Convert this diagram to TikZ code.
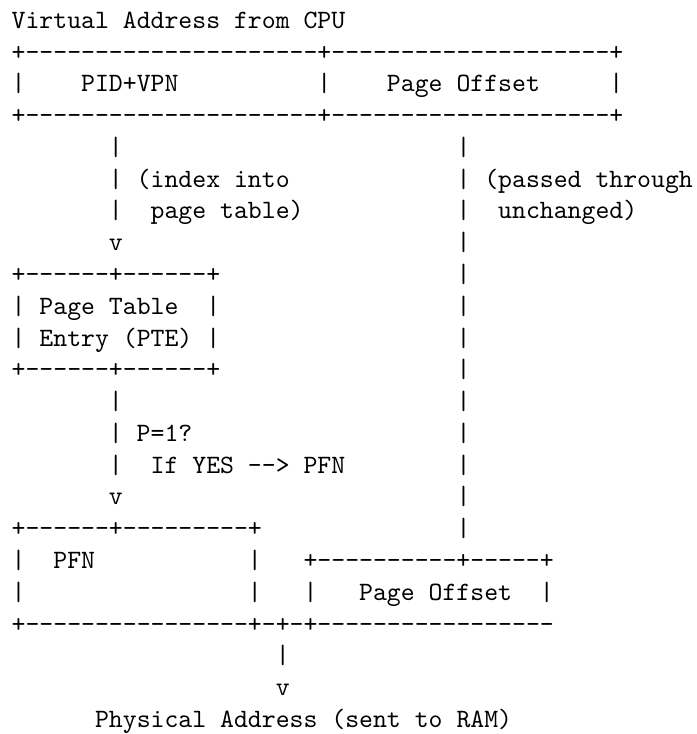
\documentclass[tikz,border=0pt]{standalone}
\usepackage{tikz}
% one column of the mono font
\newlength\cw
\setlength\cw{5.25pt}
\newcommand\sk[1]{\hspace*{#1\cw}}
\newcommand\hr[1]{\foreach\k in {1,...,#1}{-\kern0pt}}
\tikzset{asciirow/.style={anchor=base west,inner sep=0pt,font=\fontsize{10}{12}\selectfont\ttfamily}}

\begin{document}
\begin{tikzpicture}[x=1pt,y=1pt,every node/.style={asciirow}]
    \useasboundingbox (0,0) rectangle (263.2,-277.2);
    \node (r1)  at (4.2,-10.7)  {Virtual Address from CPU};
    \node (r2)  at (4.2,-22.7)  {+\hr{21}+\hr{20}+};
    \node (r3)  at (4.2,-34.7)  {|\sk4PID+VPN\sk{10}|\sk4Page Offset\sk5|};
    \node (r4)  at (4.2,-46.7)  {+\hr{21}+\hr{20}+};
    \node (r5)  at (4.2,-58.7)  {\sk7|\sk{24}|};
    \node (r6)  at (4.2,-70.7)  {\sk7|\sk1(index into\sk{12}|\sk1(passed through};
    \node (r7)  at (4.2,-82.7)  {\sk7|\sk2page table)\sk{11}|\sk2unchanged)};
    \node (r8)  at (4.2,-94.7)  {\sk7v\sk{24}|};
    \node (r9)  at (4.2,-106.7) {+\hr6+\hr6+\sk{17}|};
    \node (r10) at (4.2,-118.7) {|\sk1Page Table\sk2|\sk{17}|};
    \node (r11) at (4.2,-130.7) {|\sk1Entry (PTE)\sk1|\sk{17}|};
    \node (r12) at (4.2,-142.7) {+\hr6+\hr6+\sk{17}|};
    \node (r13) at (4.2,-154.7) {\sk7|\sk{24}|};
    \node (r14) at (4.2,-166.7) {\sk7|\sk1P=1?\sk{19}|};
    \node (r15) at (4.2,-178.7) {\sk7|\sk2If YES -\kern0pt-> PFN\sk8|};
    \node (r16) at (4.2,-190.7) {\sk7v\sk{24}|};
    \node (r17) at (4.2,-202.7) {+\hr6+\hr9+\sk{14}|};
    \node (r18) at (4.2,-214.7) {|\sk2PFN\sk{11}|\sk3+\hr{10}+\hr5+};
    \node (r19) at (4.2,-226.7) {|\sk{16}|\sk3|\sk3Page Offset\sk2|};
    \node (r20) at (4.2,-238.7) {+\hr{16}+-\kern0pt+-\kern0pt+\hr{17}};
    \node (r21) at (4.2,-250.7) {\sk{19}|};
    \node (r22) at (4.2,-262.7) {\sk{19}v};
    \node (r23) at (4.2,-274.7) {\sk6Physical Address (sent to RAM)};
\end{tikzpicture}
\end{document}
